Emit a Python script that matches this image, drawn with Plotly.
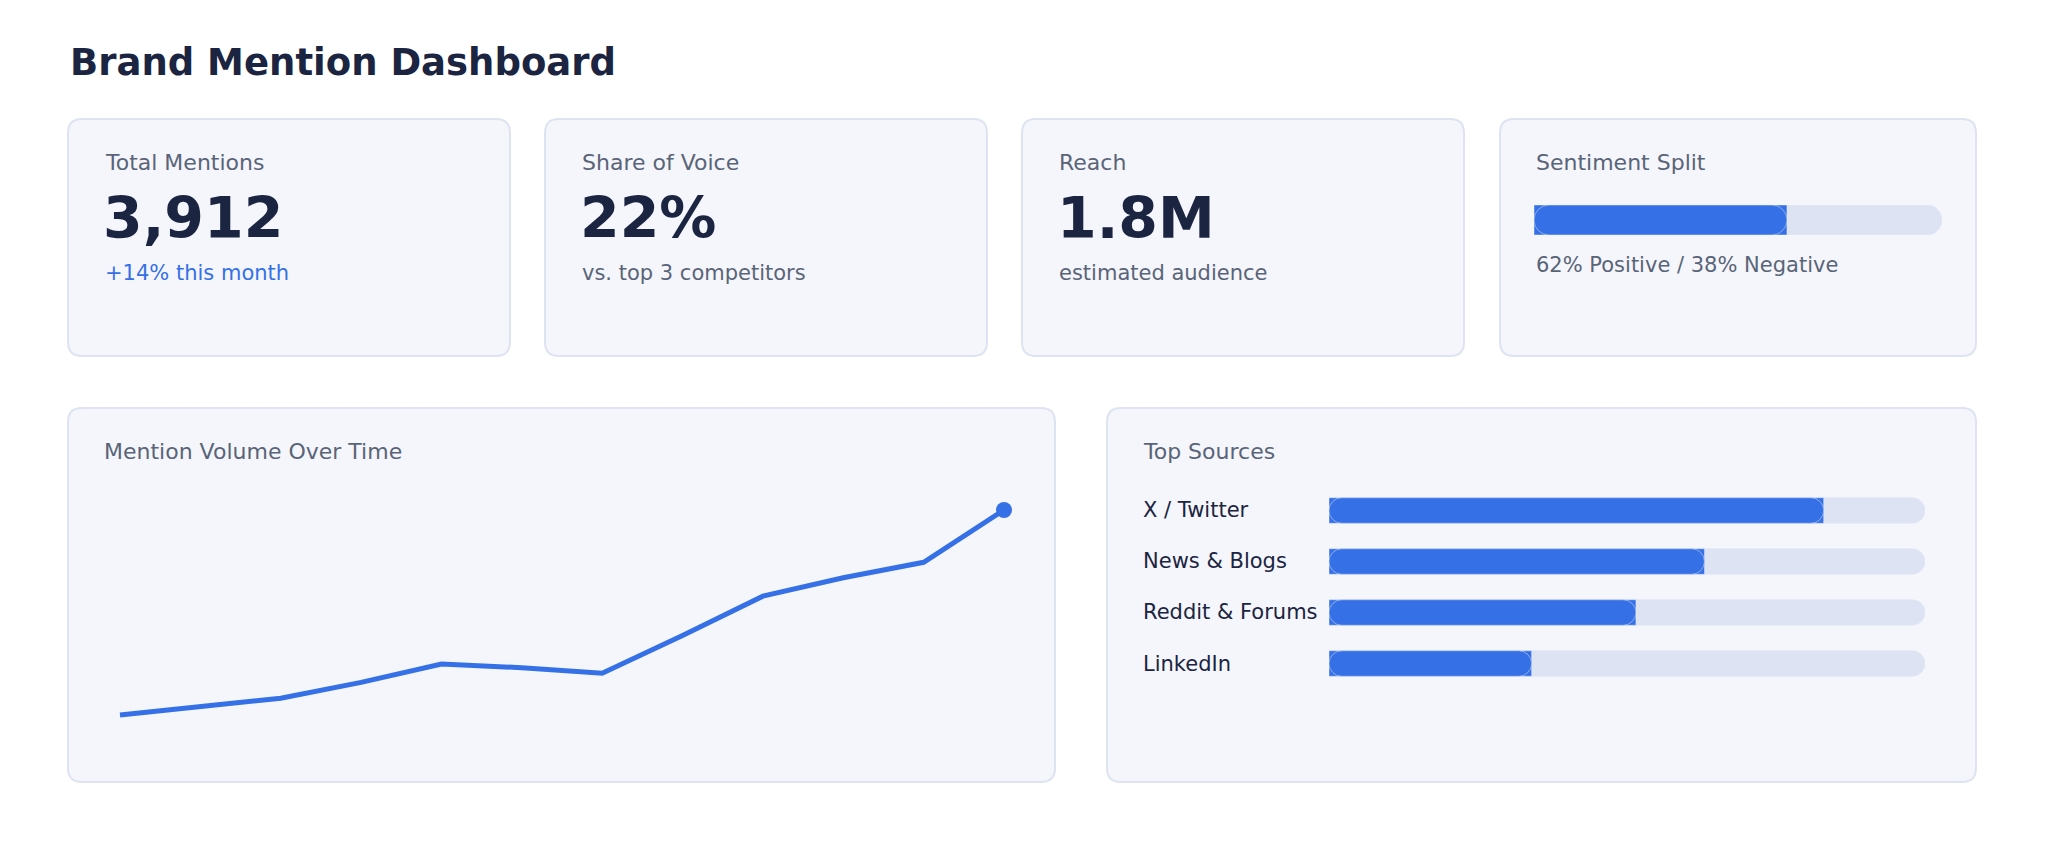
import plotly.graph_objects as go

W, H = 2045, 852
OX, OY = -8, -8  # page body margin

# data
kpi_labels = ['Total Mentions', 'Share of Voice', 'Reach']
kpi_values = ['3,912', '22%', '1.8M']
kpi_notes = ['+14% this month', 'vs. top 3 competitors', 'estimated audience']
sentiment_pos = 62
sentiment_neg = 38
volume = [180, 192, 205, 220, 258, 302, 293, 280, 370, 464, 508, 545, 670]
volume = [180, 200, 220, 258, 302, 293, 280, 370, 464, 508, 545, 670]
sources = ['X / Twitter', 'News & Blogs', 'Reddit & Forums', 'LinkedIn']
source_share = [83, 63, 51.5, 34]

BLUE = '#3570e6'
DARK = '#1b2440'
GREY = '#5a6478'
TRACK = '#dde3f2'
CARD = '#f4f6fb'
EDGE = '#dde3f0'
FONT = 'DejaVu Sans'


def px(x):
    return (x + OX) / W


def py(y):
    return 1 - (y + OY) / H


def card(x0, y0, x1, y1, r=14):
    # rounded rectangle path in paper coords
    rx, ry = r / W, r / H
    a, b, c, d = px(x0), py(y1), px(x1), py(y0)
    p = (f'M{a + rx},{b} L{c - rx},{b} Q{c},{b} {c},{b + ry} L{c},{d - ry} '
         f'Q{c},{d} {c - rx},{d} L{a + rx},{d} Q{a},{d} {a},{d - ry} '
         f'L{a},{b + ry} Q{a},{b} {a + rx},{b} Z')
    return dict(type='path', xref='paper', yref='paper', path=p, fillcolor=CARD,
                line=dict(color=EDGE, width=2), layer='below')


def text(x, y, s, size, color, bold=False):
    return dict(x=px(x), y=py(y), xref='paper', yref='paper', text=f'<b>{s}</b>' if bold else s,
                showarrow=False, xanchor='left', yanchor='middle',
                font=dict(family=FONT, size=size, color=color))


def pill(fig, ys, vals, color, width, xa, ya):
    # two overlapping bars, one grown each way, so both ends get rounded
    fig.add_trace(go.Bar(y=ys, x=vals, orientation='h', marker_color=color, width=width,
                         xaxis=xa, yaxis=ya, hoverinfo='skip'))
    fig.add_trace(go.Bar(y=ys, x=[-v for v in vals], base=vals, orientation='h', marker_color=color,
                         width=width, xaxis=xa, yaxis=ya, hoverinfo='skip'))


fig = go.Figure()
shapes = []
annots = [text(68, 63, 'Brand Mention Dashboard', 37, DARK, True)]

kpi_x = [(68, 510), (545, 987), (1022, 1464)]
for i, (x0, x1) in enumerate(kpi_x):
    shapes.append(card(x0, 119, x1, 356))
    annots.append(text(x0 + 35, 162, kpi_labels[i], 22, GREY))
    annots.append(text(x0 + 33, 218, kpi_values[i], 57, DARK, True))
    annots.append(text(x0 + 35, 273, kpi_notes[i], 21, BLUE if i == 0 else GREY))

shapes.append(card(1500, 119, 1976, 356))
annots.append(text(1534, 162, 'Sentiment Split', 22, GREY))
annots.append(text(1534, 265, f'{sentiment_pos}% Positive / {sentiment_neg}% Negative', 21, GREY))

shapes.append(card(68, 408, 1055, 782))
annots.append(text(102, 451, 'Mention Volume Over Time', 22, GREY))
shapes.append(card(1107, 408, 1976, 782))
annots.append(text(1141, 451, 'Top Sources', 22, GREY))

# sentiment bar
pill(fig, [0], [100], TRACK, 1, 'x', 'y')
pill(fig, [0], [sentiment_pos], BLUE, 1, 'x', 'y')

# line chart
n = len(volume)
x_lo, x_hi = 120, 1004
yb_px, yt_px = 760, 470
v_lo_px, v_hi_px = 715, 510
per_px = (volume[-1] - volume[0]) / (v_lo_px - v_hi_px)
y_bottom = volume[0] - (yb_px - v_lo_px) * per_px
y_top = volume[-1] + (v_hi_px - yt_px) * per_px
step = (x_hi - x_lo) / (n - 1)
fig.add_trace(go.Scatter(x=list(range(n)), y=volume, mode='lines', line=dict(color=BLUE, width=5),
                         xaxis='x2', yaxis='y2'))
fig.add_trace(go.Scatter(x=[n - 1], y=[volume[-1]], mode='markers', marker=dict(color=BLUE, size=16),
                         xaxis='x2', yaxis='y2'))

# sources bars
pill(fig, sources, [100] * len(sources), TRACK, 0.5, 'x3', 'y3')
pill(fig, sources, source_share, BLUE, 0.5, 'x3', 'y3')
row_y = [510, 561, 612, 664]
for s, yy in zip(sources, row_y):
    annots.append(text(1141, yy, s, 21, DARK))

hidden = dict(visible=False, fixedrange=True)
fig.update_layout(
    width=W, height=H, margin=dict(l=0, r=0, t=0, b=0),
    paper_bgcolor='white', plot_bgcolor='rgba(0,0,0,0)',
    showlegend=False, barmode='overlay', barcornerradius='50%',
    shapes=shapes, annotations=annots,
    xaxis=dict(domain=[px(1534), px(1942)], range=[0, 100], **hidden),
    yaxis=dict(domain=[py(235), py(205)], range=[-0.5, 0.5], **hidden),
    xaxis2=dict(domain=[px(x_lo - 10), px(x_hi + 10)], range=[-10 / step, n - 1 + 10 / step], **hidden),
    yaxis2=dict(domain=[py(yb_px), py(yt_px)], range=[y_bottom, y_top], **hidden),
    xaxis3=dict(domain=[px(1329), px(1925)], range=[0, 100], **hidden),
    yaxis3=dict(domain=[py(689), py(485)], range=[3.5, -0.5], type='category',
                categoryorder='array', categoryarray=sources, **hidden),
)

fig.write_html('out.html')
